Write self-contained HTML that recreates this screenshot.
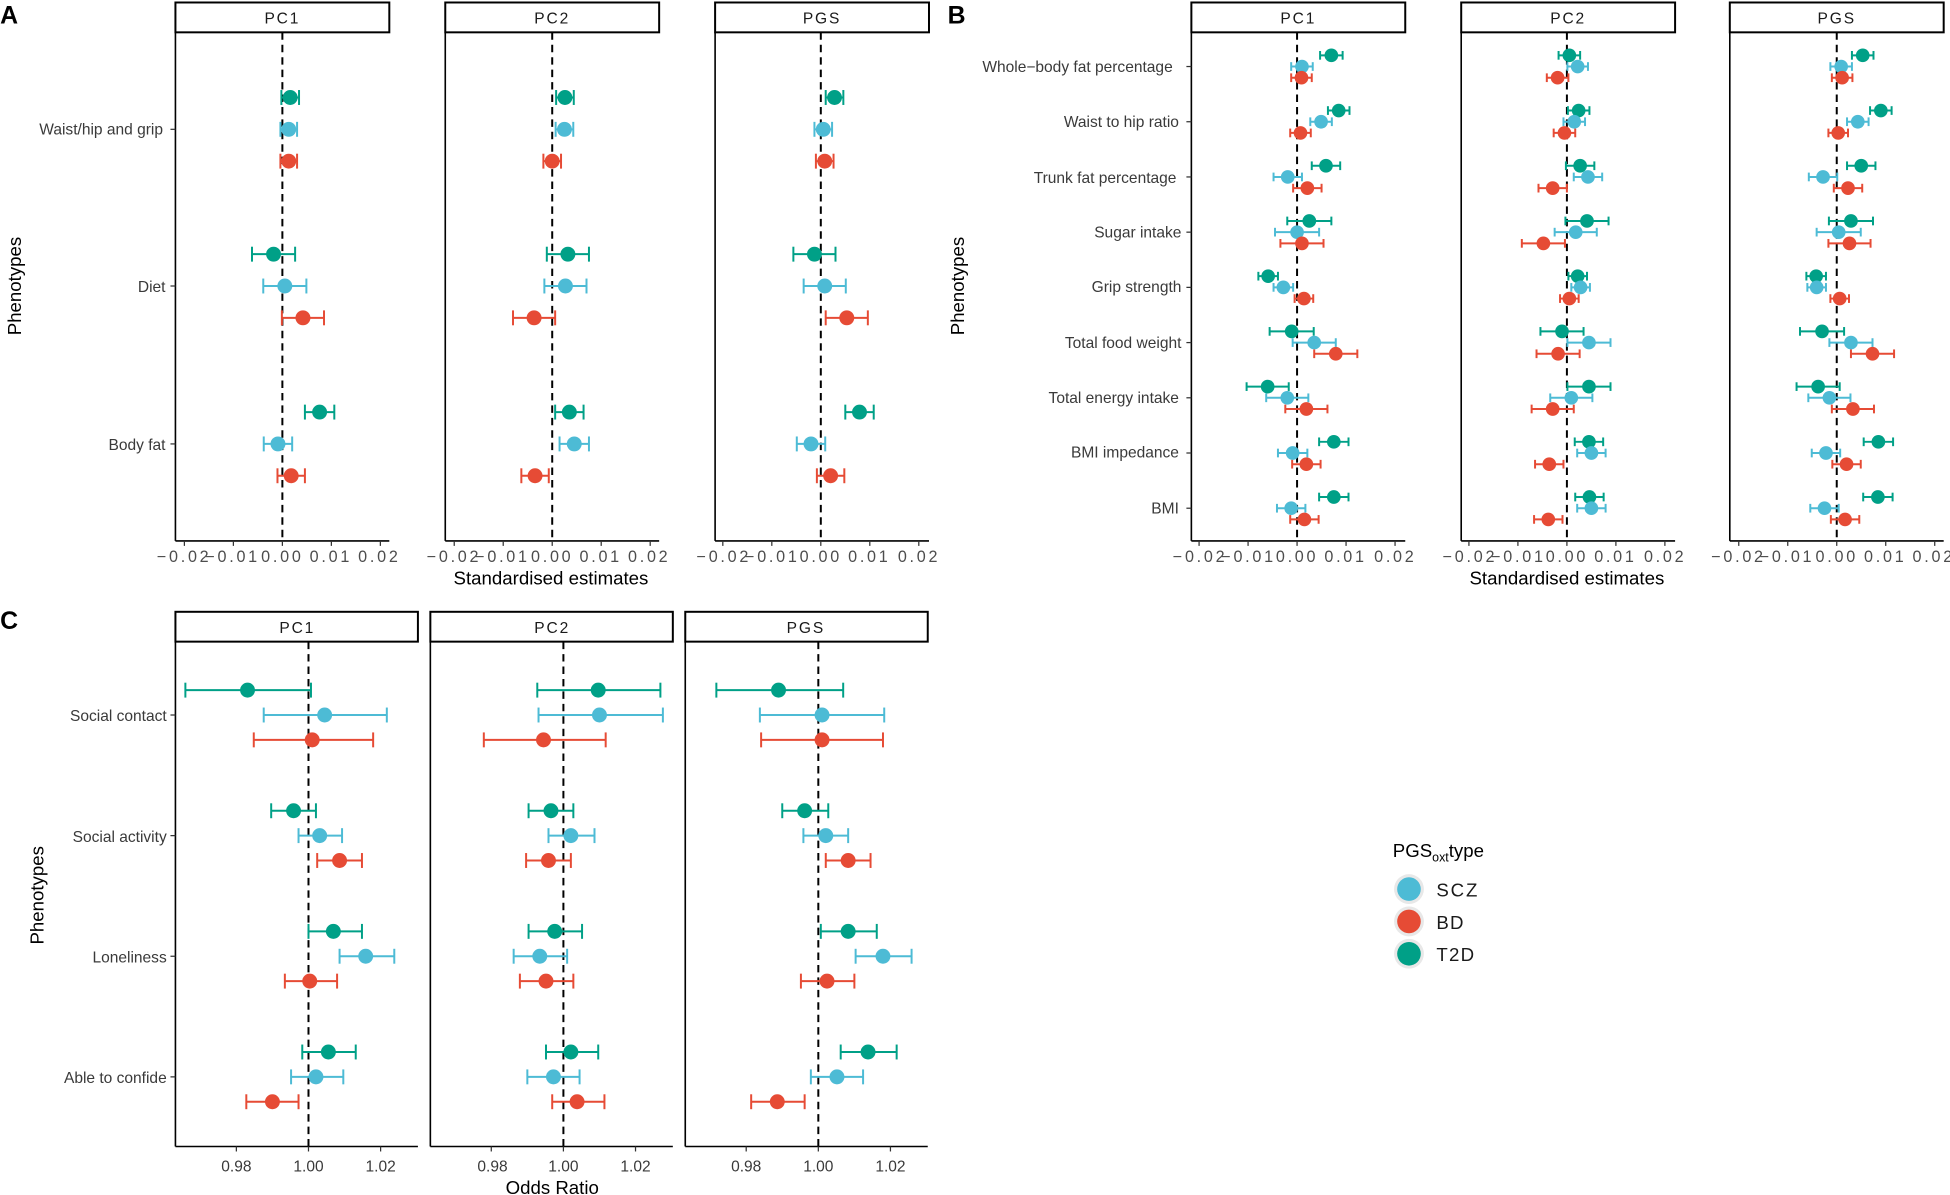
<!DOCTYPE html>
<html><head><meta charset="utf-8"><style>
html,body{margin:0;padding:0;background:#fff;}
svg{display:block;font-family:"Liberation Sans",sans-serif;}
.t{font-size:12.5px;fill:#3a3a3a;}
.tk{font-size:13px;fill:#4d4d4d;letter-spacing:2.2px;}
.st{font-size:12.5px;fill:#1a1a1a;letter-spacing:1.5px;}
.ax{font-size:15px;fill:#000;}
.lt{font-size:20px;font-weight:bold;fill:#000;}
</style></head><body>
<svg id="s" width="1950" height="1195" viewBox="0 0 1568 961" xmlns="http://www.w3.org/2000/svg">
<rect width="1568" height="961" fill="#fff"/>
<g id="g"></g>
<text class="lt" x="0" y="19">A</text>
<text class="lt" x="762" y="19">B</text>
<text class="lt" x="0" y="506">C</text>
<text class="st" x="227" y="19" text-anchor="middle">PC1</text>
<text class="st" x="444" y="19" text-anchor="middle">PC2</text>
<text class="st" x="661" y="19" text-anchor="middle">PGS</text>
<text class="st" x="1044" y="19" text-anchor="middle">PC1</text>
<text class="st" x="1261" y="19" text-anchor="middle">PC2</text>
<text class="st" x="1477" y="19" text-anchor="middle">PGS</text>
<text class="st" x="239" y="509" text-anchor="middle">PC1</text>
<text class="st" x="444" y="509" text-anchor="middle">PC2</text>
<text class="st" x="648" y="509" text-anchor="middle">PGS</text>
<text class="t" x="131" y="108" text-anchor="end">Waist/hip and grip</text>
<text class="t" x="133" y="235" text-anchor="end">Diet</text>
<text class="t" x="133" y="362" text-anchor="end">Body fat</text>
<text class="t" x="943" y="58" text-anchor="end">Whole−body fat percentage</text>
<text class="t" x="948" y="102" text-anchor="end">Waist to hip ratio</text>
<text class="t" x="946" y="147" text-anchor="end">Trunk fat percentage</text>
<text class="t" x="950" y="191" text-anchor="end">Sugar  intake</text>
<text class="t" x="950" y="235" text-anchor="end">Grip  strength</text>
<text class="t" x="950" y="280" text-anchor="end">Total food weight</text>
<text class="t" x="948" y="324" text-anchor="end">Total energy intake</text>
<text class="t" x="948" y="368" text-anchor="end">BMI impedance</text>
<text class="t" x="948" y="413" text-anchor="end">BMI</text>
<text class="t" x="134" y="580" text-anchor="end">Social contact</text>
<text class="t" x="134" y="677" text-anchor="end">Social  activity</text>
<text class="t" x="134" y="774" text-anchor="end">Loneliness</text>
<text class="t" x="134" y="871" text-anchor="end">Able to confide</text>
<text class="ax" x="443" y="470" text-anchor="middle">Standardised estimates</text>
<text class="ax" x="1260" y="470" text-anchor="middle">Standardised estimates</text>
<text class="ax" x="444" y="960" text-anchor="middle">Odds Ratio</text>
<text class="ax" transform="translate(17,230) rotate(-90)" text-anchor="middle">Phenotypes</text>
<text class="ax" transform="translate(775,230) rotate(-90)" text-anchor="middle">Phenotypes</text>
<text class="ax" transform="translate(35,720) rotate(-90)" text-anchor="middle">Phenotypes</text>
<g class="tk" text-anchor="middle">
<text x="148" y="452">−0.02</text><text x="187" y="452">−0.01</text><text x="227" y="452">0.00</text><text x="266" y="452">0.01</text><text x="305" y="452">0.02</text>
<text x="365" y="452">−0.02</text><text x="404" y="452">−0.01</text><text x="444" y="452">0.00</text><text x="483" y="452">0.01</text><text x="522" y="452">0.02</text>
<text x="582" y="452">−0.02</text><text x="621" y="452">−0.01</text><text x="660" y="452">0.00</text><text x="699" y="452">0.01</text><text x="739" y="452">0.02</text>
<text x="965" y="452">−0.02</text><text x="1004" y="452">−0.01</text><text x="1043" y="452">0.00</text><text x="1082" y="452">0.01</text><text x="1122" y="452">0.02</text>
<text x="1182" y="452">−0.02</text><text x="1221" y="452">−0.01</text><text x="1260" y="452">0.00</text><text x="1299" y="452">0.01</text><text x="1339" y="452">0.02</text>
<text x="1398" y="452">−0.02</text><text x="1437" y="452">−0.01</text><text x="1477" y="452">0.00</text><text x="1516" y="452">0.01</text><text x="1555" y="452">0.02</text>
</g>
<g class="t" text-anchor="middle">
<text x="190" y="942">0.98</text><text x="248" y="942">1.00</text><text x="306" y="942">1.02</text>
<text x="396" y="942">0.98</text><text x="453" y="942">1.00</text><text x="511" y="942">1.02</text>
<text x="600" y="942">0.98</text><text x="658" y="942">1.00</text><text x="716" y="942">1.02</text>
</g>
<text x="1120" y="689" style="font-size:15px;fill:#000">PGS<tspan dy="4" style="font-size:10px">oxt</tspan><tspan dy="-4">type</tspan></text>
<circle cx="1133" cy="715" r="12" fill="#e8e8e8"/><circle cx="1133" cy="715" r="9.5" fill="#4DBBD5"/>
<circle cx="1133" cy="741" r="12" fill="#e8e8e8"/><circle cx="1133" cy="741" r="9.5" fill="#E64B35"/>
<circle cx="1133" cy="767" r="12" fill="#e8e8e8"/><circle cx="1133" cy="767" r="9.5" fill="#00A087"/>
<text x="1155" y="721" style="font-size:15px;fill:#1a1a1a;letter-spacing:1.5px">SCZ</text>
<text x="1155" y="747" style="font-size:15px;fill:#1a1a1a;letter-spacing:1px">BD</text>
<text x="1155" y="773" style="font-size:15px;fill:#1a1a1a;letter-spacing:1px">T2D</text>
</svg>
<script>
var NS="http://www.w3.org/2000/svg",G=document.getElementById("g");
function el(n,a){var e=document.createElementNS(NS,n);for(var k in a)e.setAttribute(k,a[k]);G.appendChild(e);return e;}
var COL={T:"#00A087",S:"#4DBBD5",B:"#E64B35"};
function frame(x0,x1,top,bot,ticks,rows,zero){
  el("rect",{x:x0,y:top-24,width:x1-x0,height:24,fill:"#fff",stroke:"#000","stroke-width":1.6});
  el("line",{x1:x0,y1:top,x2:x0,y2:bot,stroke:"#000","stroke-width":1.3});
  el("line",{x1:x0,y1:bot,x2:x1,y2:bot,stroke:"#000","stroke-width":1.3});
  ticks.forEach(function(t){el("line",{x1:t,y1:bot,x2:t,y2:bot+4,stroke:"#333","stroke-width":1});});
  if(rows)rows.forEach(function(r){el("line",{x1:x0-4,y1:r,x2:x0,y2:r,stroke:"#333","stroke-width":1});});
  el("line",{x1:zero,y1:top,x2:zero,y2:bot,stroke:"#000","stroke-width":1.6,"stroke-dasharray":"6,4"});
}
function pt(c,y,x,lo,hi,r,cap){
  el("line",{x1:lo,y1:y,x2:hi,y2:y,stroke:COL[c],"stroke-width":1.6});
  el("line",{x1:lo,y1:y-cap,x2:lo,y2:y+cap,stroke:COL[c],"stroke-width":1.6});
  el("line",{x1:hi,y1:y-cap,x2:hi,y2:y+cap,stroke:COL[c],"stroke-width":1.6});
  el("circle",{cx:x,cy:y,r:r,fill:COL[c]});
}
var U=39.4;
var Arows=[104,230,357];
var A=[[141,313,227],[358,530,444],[575,747,660]];
var Ad=[
 [[[.16,.18],[.13,.17],[.13,.17]],[[-.18,.44],[.05,.44],[.42,.43]],[[.76,.3],[-.09,.29],[.18,.28]]],
 [[[.26,.18],[.25,.18],[0,.18]],[[.32,.43],[.27,.43],[-.37,.43]],[[.35,.29],[.45,.3],[-.35,.28]]],
 [[[.28,.18],[.05,.18],[.08,.18]],[[-.13,.43],[.08,.43],[.53,.43]],[[.79,.29],[-.2,.29],[.2,.28]]]
];
A.forEach(function(p,i){
  var z=p[2];frame(p[0],p[1],26,435,[z-2*U,z-U,z,z+U,z+2*U],i==0?Arows:null,z);
  Arows.forEach(function(ry,j){
    var d=Ad[i][j];
    [["T",-25.6],["S",0],["B",25.6]].forEach(function(c,k){
      var v=d[k];pt(c[0],ry+c[1],z+v[0]*U,z+(v[0]-v[1])*U,z+(v[0]+v[1])*U,6,6);
    });
  });
});
var Brows=[];for(var i=0;i<9;i++)Brows.push(53.5+i*44.4);
var B=[[958,1130,1043],[1175,1347,1260],[1391,1563,1477]];
var Bd=[
 [[.70,.23,.10,.22,.09,.21],[.85,.22,.49,.22,.07,.21],[.59,.29,-.19,.29,.21,.29],[.25,.45,0,.45,.10,.44],[-.59,.2,-.28,.2,.14,.19],[-.11,.45,.35,.44,.79,.44],[-.6,.43,-.2,.43,.19,.43],[.75,.3,-.09,.3,.19,.29],[.75,.3,-.12,.29,.15,.29]],
 [[.05,.22,.22,.21,-.19,.22],[.24,.22,.15,.22,-.05,.22],[.27,.29,.43,.29,-.29,.29],[.41,.44,.18,.43,-.48,.44],[.22,.19,.28,.19,.05,.19],[-.1,.44,.45,.44,-.18,.44],[.45,.44,.09,.43,-.29,.43],[.45,.29,.5,.29,-.36,.29],[.46,.29,.5,.29,-.38,.29]],
 [[.53,.22,.09,.22,.11,.21],[.9,.22,.43,.22,.03,.2],[.5,.29,-.28,.29,.23,.29],[.29,.45,.04,.45,.26,.43],[-.42,.2,-.41,.19,.06,.19],[-.3,.45,.29,.44,.73,.44],[-.38,.44,-.15,.43,.33,.43],[.85,.3,-.22,.29,.2,.29],[.84,.3,-.25,.29,.17,.29]]
];
B.forEach(function(p,i){
  var z=p[2];frame(p[0],p[1],26,435,[z-2*U,z-U,z,z+U,z+2*U],i==0?Brows:null,z);
  Brows.forEach(function(ry,j){
    var d=Bd[i][j];
    [["T",-9],["S",0],["B",9]].forEach(function(c,k){
      var v=d[2*k],e=d[2*k+1];pt(c[0],ry+c[1],z+v*U,z+(v-e)*U,z+(v+e)*U,5.5,3.5);
    });
  });
});
var Crows=[575,672,769,866];
var C=[[141,336,248],[346,541,453],[551,746,658]];
var Cd=[
 [[199,149,250,261,212,311,251,204,300],[236,218,254,257,240,275,273,255,291],[268,248,291,294,273,317,249,229,271],[264,243,286,254,234,276,219,198,240]],
 [[481,432,531,482,433,533,437,389,487],[443,425,461,459,441,478,441,423,459],[446,425,468,434,413,456,439,418,461],[459,439,481,445,424,466,464,444,486]],
 [[626,576,678,661,611,711,661,612,710],[647,629,666,664,646,682,682,664,700],[682,660,705,710,688,733,665,644,687],[698,676,721,673,652,694,625,604,647]]
];
C.forEach(function(p,i){
  var z=p[2];frame(p[0],p[1],516,922,[z-58,z,z+58],i==0?Crows:null,z);
  Crows.forEach(function(ry,j){
    var d=Cd[i][j];
    [["T",-20],["S",0],["B",20]].forEach(function(c,k){
      pt(c[0],ry+c[1],d[3*k],d[3*k+1],d[3*k+2],6,6);
    });
  });
});
</script>
</body></html>
